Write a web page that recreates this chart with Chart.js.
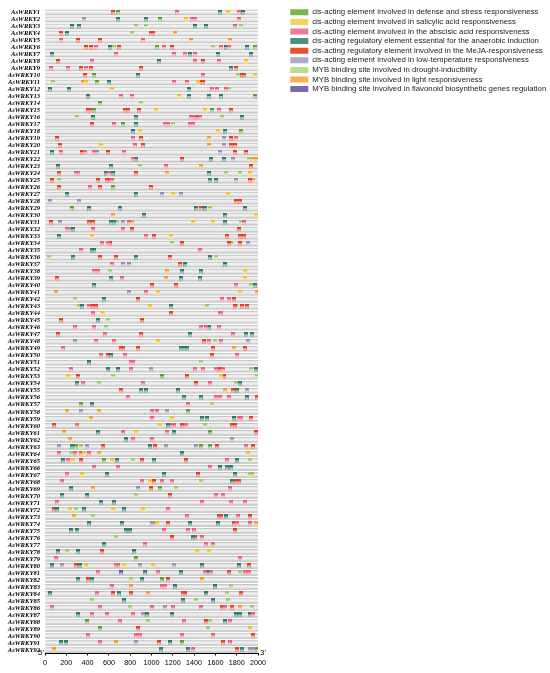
<!DOCTYPE html>
<html>
<head>
<meta charset="utf-8">
<script src="https://cdn.jsdelivr.net/npm/chart.js@4.4.1/dist/chart.umd.min.js"></script>
<style>
  html, body { margin: 0; padding: 0; background: #fff; }
  #wrap { width: 550px; height: 673px; position: relative; }
</style>
</head>
<body>
<div id="wrap"><canvas id="promoters"></canvas></div>
<script>
// promoter length (bp upstream of start codon)
var promoterLength = 2000;
var xTicks = [0, 200, 400, 600, 800, 1000, 1200, 1400, 1600, 1800, 2000];

var genes = [];
for (var i = 1; i <= 92; i++) genes.push('AsWRKY' + i);

// each entry: [gene number, position, position, ...]
var defense = [[1,688],[2,1079],[6,1054,1975],[10,459],[11,487],[13,1968],[14,516],[15,463,1569],[17,734],[18,1844],[26,641],[29,250],[53,1094],[57,334],[58,1344],[61,1547],[63,291,1469,1547],[65,556],[69,1078],[79,859],[82,1094],[88,397],[89,516],[91,1291],[92,1994]];
var salicylic = [[1,1720],[2,1324],[8,1891],[10,1975],[11,387,1432],[12,629],[13,1255],[15,1041,1500],[18,891,1625],[20,525],[24,1922],[27,1203,1719],[30,1984],[31,1391,1578],[33,444,1181],[38,1875],[39,1875],[41,1063,1834],[43,984],[44,541],[48,1063],[53,213,1656],[59,1197],[60,1084],[61,859],[64,366,1906],[65,259,625],[67,344],[68,984],[72,234,634,916],[74,1053],[78,1431,1538],[80,381,741,1016],[89,1922]];
var abscisic = [[1,1240,1820],[2,1380,1410,1826],[3,1782],[5,146,921],[6,480,1122,1652,1727],[7,666,1209,1317,1410],[8,443,1410,1634],[9,53,217,387],[10,1488],[11,1209,1333],[12,1572,1612,1696],[13,713,821],[15,1634],[16,1375,1397,1459],[17,647,1125,1156,1359,1391],[19,828,1791],[20,844],[21,147,375,463,744],[22,822],[23,1134],[24,288,313,600],[25,625],[26,422],[31,791,1866],[32,203,447,734],[33,944],[34,531,594],[35,338,1459],[37,625],[38,463,500],[39,719],[40,1797],[41,953],[42,1666,1725],[43,416],[44,453,1641,1656],[46,281,459,1469,1516,1634],[47,563,1766],[48,478,650,1541,1656],[49,166],[50,525,750,1803],[51,806,828],[52,244,803,1406,1484,1603,1672],[54,353,916,1553],[56,781,1609,1641,1728],[57,1344],[58,1000,1056],[59,1009,1819,1844],[60,297,1188,1209,1328],[61,728,1141],[62,828,1009],[63,1891],[64,134,281,334,413],[65,219,1713],[66,463,681,1553],[67,209],[68,156,913,1103,1188],[69,1734],[70,1609,1672],[71,116,1478,1750,1875],[72,1156],[73,1334,1813],[74,1803,1922],[75,1119,1344,1397],[76,1478],[77,938,1509,1578],[79,100,1828],[80,666,688],[81,500,1063,1500,1563,1881,1916],[83,625,1094,1131],[84,491],[86,69,516,1000,1203,1469,1694],[87,444,578,828,1953],[88,703,1306,1741],[90,406,853,891,1291,1578],[91,516,1734],[92,1391]];
var anaerobic = [[1,1643,1860],[2,688,945],[3,254,319,1410,1513],[4,208],[6,614,1699,1897],[7,62,1364,1621,1931],[8,1069],[9,1742],[10,874],[11,598],[12,46,226,1348],[13,403,1355,1541,1652],[16,447,853,1853],[17,853],[18,828,1694],[21,63],[22,859,1563,1681],[23,119,619],[24,569,634,1538],[25,1547,1603],[27,203,859],[29,413,703,1422,1506,1875],[30,928,1694],[31,619,647,1694],[32,266],[33,131],[35,444,463],[36,266,859,1547],[37,1319,1688],[38,1288,1463],[39,616,1281,1453],[40,459,1969],[42,553],[43,350,1181],[45,494],[46,1541],[47,1366,1891,1944],[49,1275,1306,1338],[50,619],[51,416],[52,588,688,1978],[54,303,1828],[55,900,947,1250,1803],[56,1303,1463,1897],[57,438],[59,1475,1522,1772],[60,1156],[61,500,1213],[62,759],[63,256,984],[64,1291],[65,172,678,1022,1806],[66,1641,1709,1750],[67,578,1119,1781],[68,1759],[69,241],[70,163,391],[71,522,647],[72,116,366,741],[73,1697],[74,413,725,1359,1625],[75,244,303,756,775,797],[76,1391],[77,556],[78,125,306,838],[80,69,328,1475,1819],[81,938,1275,1531],[82,313,438,913],[83,1219,1594],[84,47,697,1516],[85,744,1297,1578],[87,306,959,1188,1791,1828,1922],[88,1688],[91,150,194,1172],[92,1088,1344,1850]];
var meja = [[1,642],[4,146,992,1014],[5,310,518],[6,381,434,697,1190],[8,124,1488],[9,341,434,899,1789],[10,378,1854,1869],[11,1457,1479],[15,406,438,750,781,884,1750],[16,1422],[17,438],[19,109,900,1744],[20,141,922,1744,1781],[21,344,588,1781,1891],[22,1291],[23,1938],[24,134,853],[25,63,494,578,600,1922],[26,134,516,994],[28,1797,1828],[29,1469],[31,56,416,447],[32,819,1819],[33,1022,1709,1828,1866],[34,609,1291,1728,1828],[36,516,666,1178],[37,1266],[39,116],[40,1000,1228],[42,875,1775],[43,447,478,1781,1850,1897],[44,1181],[45,147,913],[47,125,897],[48,1494],[49,713,734,875,1578,1875],[50,588,1572],[52,1647],[53,313,1338,1681],[54,1416],[55,709,1766],[56,1991],[59,1938],[60,84,1291,1759,1781],[61,1978],[63,541,1031,1616,1953],[65,334,913,1328],[67,1438],[68,1022,1791,1822],[69,991],[70,1172],[72,84],[73,1631,1656,1928],[74,1156,1775],[75,1781],[76,1188,1413],[78,538],[80,291,1913],[81,1728],[82,406,1156],[84,641,803,1297,1313,1844],[86,1663,1756],[88,1516],[89,869],[90,1953],[91,1072,1672],[92,1803]];
var lowTemp = [[2,363],[19,1678],[20,1678],[21,491,1641],[22,1766],[25,1797],[27,1103,1275],[28,47,322],[31,141,734],[32,241],[34,1906],[37,734,791],[41,791],[48,281,1906],[52,994],[55,1897],[58,338,1147],[62,1756],[63,131,391,1134,1422],[69,875],[74,1000,1031],[80,163,891,1209],[86,1131],[87,922],[91,859],[92,1922,1953]];
var mybDrought = [[3,852,952,1845],[4,821],[6,651,1575],[10,1813],[11,78],[12,1727],[14,900],[16,297,1666],[17,1203],[22,1913],[23,891],[24,1703,1834],[25,131],[29,1547],[31,678,1844],[34,1188],[36,41,1603],[38,609],[40,1931],[42,281],[43,322,1525,1797],[45,594],[46,572],[48,1594],[51,1469],[52,1938],[53,634,1991],[54,506,1791],[57,1572],[60,1506],[63,334],[64,241],[65,828,1928],[67,1922],[68,1469],[69,1234],[70,850],[72,288],[73,453],[76,666],[78,203],[81,1834],[82,806],[83,1750],[84,1713],[85,444,1422,1719],[86,797,1944],[88,963,1547],[89,1531]];
var mybLight = [[4,1224],[5,1373,1736],[11,356],[19,1541],[20,1541],[22,1953,1991],[23,1463],[24,1141],[25,1953],[30,634],[31,813],[34,1750],[38,1150],[39,1134],[41,100,1991],[49,1775],[55,1688],[58,209,506],[59,428],[61,181],[62,234],[64,506],[67,1944],[69,453],[73,275],[74,1978],[82,1478],[83,803],[84,969],[86,1828],[91,666],[92,88]];
var mybFlavonoid = [[81,713]];

var series = [
    { label: 'cis-acting element involved in defense and stress responsiveness', sites: defense, top: '#5c9e34', leg: '#a6cf86', swatch: '#79b54a' },
    { label: 'cis-acting element involved in salicylic acid responsiveness', sites: salicylic, top: '#efc21c', leg: '#f7df86', swatch: '#f4d35a' },
    { label: 'cis-acting element involved in the abscisic acid responsiveness', sites: abscisic, top: '#ec5d80', leg: '#f6aabb', swatch: '#f07b98' },
    { label: 'cis-acting regulatory element essential for the anaerobic induction', sites: anaerobic, top: '#2e7b6c', leg: '#86b3aa', swatch: '#4a9182' },
    { label: 'cis-acting regulatory element involved in the MeJA-responsiveness', sites: meja, top: '#e43e26', leg: '#f09a88', swatch: '#e9502f' },
    { label: 'cis-acting element involved in low-temperature responsiveness', sites: lowTemp, top: '#948cb4', leg: '#c9c3da', swatch: '#b0a9c8' },
    { label: 'MYB binding site involved in drought-inducibility', sites: mybDrought, top: '#98cc66', leg: '#d2e9b8', swatch: '#b6de92' },
    { label: 'MYB binding site involved in light responsiveness', sites: mybLight, top: '#f59a26', leg: '#fbd092', swatch: '#f8b04a' },
    { label: 'MYB binding site involved in flavonoid biosynthetic genes regulation', sites: mybFlavonoid, top: '#654f9c', leg: '#a898c8', swatch: '#7d68a8' }
];

function toPoints(sites) {
    var pts = [];
    sites.forEach(function(row) {
        for (var k = 1; k < row.length; k++) pts.push({ x: row[k], y: genes[row[0] - 1] });
    });
    return pts;
}

// little "gate" glyph used for every site
function marker(top, leg) {
    var c = document.createElement('canvas');
    c.width = 4;
    c.height = 5;
    var g = c.getContext('2d');
    g.fillStyle = top;
    g.fillRect(0, 0, 4, 2);
    g.fillStyle = leg;
    g.fillRect(0, 2, 1, 3);
    g.fillRect(3, 2, 1, 3);
    g.globalAlpha = 0.55;
    g.fillRect(1, 2, 2, 3);
    return c;
}

function tube(ctx) {
    var chart = ctx.chart, y = chart.scales.y;
    if (ctx.type !== 'data' || !y) return '#dcdcdc';
    var c = y.getPixelForValue(ctx.dataIndex);
    if (!isFinite(c)) return '#dcdcdc';
    var g = chart.ctx.createLinearGradient(0, c - 2.5, 0, c + 2.5);
    g.addColorStop(0, '#c2c2c2');
    g.addColorStop(0.3, '#f3f3f3');
    g.addColorStop(0.7, '#e3e3e3');
    g.addColorStop(1, '#bcbcbc');
    return g;
}

var layoutTweaks = {
    id: 'layoutTweaks',
    beforeLayout: function(chart) {
        var lg = chart.legend;
        if (lg && !lg._fixed) {
            var fit = lg.fit;
            lg.fit = function() {
                fit.call(this);
                this.width = 292;
            };
            lg._fixed = true;
        }
    },
    afterLayout: function(chart) {
        var lg = chart.legend;
        lg.left = 288.5;
        lg.right = lg.left + lg.width;
        lg.top = 6.6;
    }
};

var endLabels = {
    id: 'endLabels',
    afterDraw: function(chart) {
        var x = chart.scales.x, ctx = chart.ctx, y = chart.chartArea.bottom;
        ctx.save();
        ctx.font = '8px "Liberation Sans", Arial, sans-serif';
        ctx.fillStyle = '#000';
        ctx.textBaseline = 'middle';
        ctx.textAlign = 'right';
        ctx.fillText("5'", x.getPixelForValue(0) - 1, y - 1);
        ctx.textAlign = 'left';
        ctx.fillText("3'", x.getPixelForValue(promoterLength) + 2, y - 1);
        ctx.restore();
    }
};

var datasets = [{
    type: 'bar',
    indexAxis: 'y',
    data: genes.map(function() { return [0, promoterLength]; }),
    backgroundColor: tube,
    borderWidth: 0,
    barThickness: 5,
    order: 1
}].concat(series.map(function(s) {
    return {
        type: 'scatter',
        label: s.label,
        data: toPoints(s.sites),
        pointStyle: marker(s.top, s.leg),
        pointRadius: 3,
        backgroundColor: s.swatch,
        borderColor: s.swatch,
        borderWidth: 0,
        order: 0
    };
}));

new Chart(document.getElementById('promoters'), {
    data: { labels: genes, datasets: datasets },
    options: {
        responsive: true,
        maintainAspectRatio: false,
        animation: false,
        events: [],
        layout: { padding: { top: 4.5, left: 0, right: 0, bottom: 0 } },
        scales: {
            x: {
                type: 'linear',
                min: 0,
                max: promoterLength,
                afterBuildTicks: function(s) { s.ticks = xTicks.map(function(v) { return { value: v }; }); },
                ticks: {
                    autoSkip: false,
                    maxRotation: 0,
                    padding: 3,
                    color: '#000',
                    font: { family: '"Liberation Sans", Arial, sans-serif', size: 7.2 },
                    callback: function(v) { return String(v); }
                },
                grid: { display: true, drawOnChartArea: false, drawTicks: true, tickLength: 2, color: '#000' },
                border: { display: true, color: '#000', width: 1 },
                afterFit: function(s) { s.height = 19.5; }
            },
            y: {
                type: 'category',
                labels: genes,
                offset: true,
                grid: { display: false, drawTicks: false },
                border: { display: false },
                ticks: {
                    autoSkip: false,
                    padding: 5,
                    color: '#000',
                    font: { family: '"Liberation Serif", "Times New Roman", serif', style: 'italic', weight: 'bold', size: 6.6 }
                },
                afterFit: function(s) { s.width = 45; }
            }
        },
        plugins: {
            tooltip: { enabled: false },
            legend: {
                position: 'right',
                align: 'start',
                labels: {
                    boxWidth: 18,
                    boxHeight: 6,
                    padding: 1.8,
                    color: '#222',
                    font: { family: '"Liberation Sans", Arial, sans-serif', size: 7.8 },
                    filter: function(item) { return item.datasetIndex > 0; }
                }
            }
        }
    },
    plugins: [layoutTweaks, endLabels]
});
</script>
</body>
</html>
